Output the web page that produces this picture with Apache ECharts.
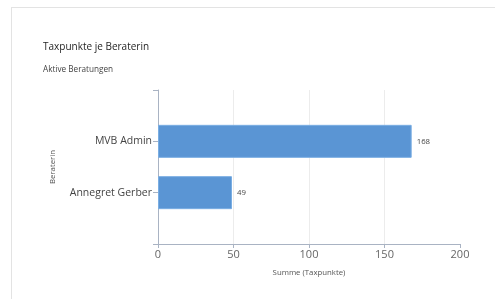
<!DOCTYPE html>
<html>
<head>
<meta charset="utf-8">
<script src="https://cdn.jsdelivr.net/npm/echarts@6/dist/echarts.min.js"></script>
<style>
html,body{margin:0;padding:0;background:#fff;}
#frame{position:absolute;left:11px;top:7px;width:484px;height:292px;border-left:1px solid #e3e3e3;border-top:1px solid #e3e3e3;}
#chart{position:absolute;left:0;top:0;width:495px;height:299px;}
</style>
</head>
<body>
<div id="frame"></div>
<div id="chart"></div>
<script>
const titleText = 'Taxpunkte je Beraterin';
const subtitleText = 'Aktive Beratungen';
const categories = ['MVB Admin', 'Annegret Gerber'];
const values = [168, 49];
const xTicks = [0, 50, 100, 150, 200];
const xName = 'Summe (Taxpunkte)';
const yName = 'Beraterin';

// category axis bottom-to-top, padded with empty slots at both ends
const yCats = [''].concat(categories.slice().reverse(), ['']);
const barData = ['-'].concat(values.slice().reverse(), ['-']);

const font = '"Open Sans", sans-serif';
const chart = echarts.init(document.getElementById('chart'), null, {renderer: 'canvas'});
chart.setOption({
  animation: false,
  textStyle: {fontFamily: font},
  title: {
    text: titleText,
    subtext: subtitleText,
    left: 38,
    top: 37,
    itemGap: 14,
    textStyle: {fontFamily: font, fontSize: 10, fontWeight: 'normal', color: '#252525'},
    subtextStyle: {fontFamily: font, fontSize: 8.2, color: '#444'}
  },
  grid: {left: 158, right: 35, top: 90, bottom: 55},
  xAxis: {
    type: 'value',
    min: xTicks[0],
    max: xTicks[xTicks.length - 1],
    interval: xTicks[1] - xTicks[0],
    name: xName,
    nameLocation: 'middle',
    nameGap: 25,
    nameTextStyle: {fontFamily: font, fontSize: 7.8, color: '#555'},
    axisLine: {show: true, lineStyle: {color: '#a9b3c3', width: 1}},
    axisTick: {show: true, length: 4, lineStyle: {color: '#a9b3c3'}},
    axisLabel: {fontFamily: font, fontSize: 11, color: '#666', margin: 5},
    splitLine: {show: true, showMinLine: false, showMaxLine: false, lineStyle: {color: '#ececec'}}
  },
  yAxis: {
    type: 'category',
    data: yCats,
    boundaryGap: false,
    name: yName,
    nameLocation: 'middle',
    nameGap: 101,
    nameRotate: 90,
    nameTextStyle: {fontFamily: font, fontSize: 7.8, color: '#555'},
    axisLine: {show: true, lineStyle: {color: '#a9b3c3', width: 1}},
    axisTick: {show: true, length: 5, interval: 0, lineStyle: {color: '#a9b3c3'}},
    axisLabel: {interval: 0, fontFamily: font, fontSize: 10.5, color: '#444', margin: 6},
    splitLine: {show: false}
  },
  series: [{
    type: 'bar',
    data: barData,
    barWidth: 33,
    itemStyle: {color: '#5a95d4', borderColor: '#7aaee3', borderWidth: 1},
    label: {show: true, position: 'right', distance: 5, fontFamily: font, fontSize: 7.8, color: '#444'}
  }]
});
</script>
</body>
</html>
